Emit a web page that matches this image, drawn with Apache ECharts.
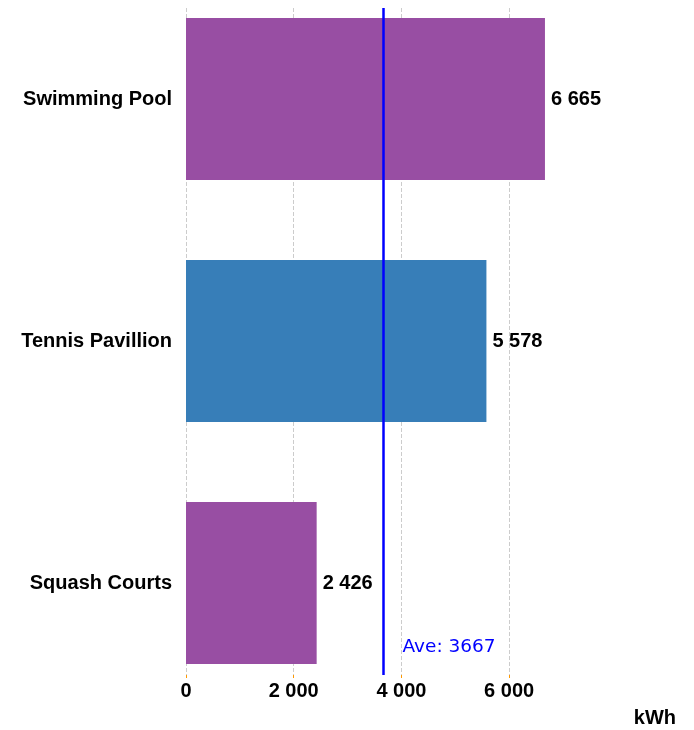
<!DOCTYPE html>
<html>
<head>
<meta charset="utf-8">
<script src="https://cdn.jsdelivr.net/npm/echarts@6/dist/echarts.min.js"></script>
<style>
  html, body { margin: 0; padding: 0; background: #fff; }
  #chart { width: 694px; height: 730px; }
</style>
</head>
<body>
<div id="chart"></div>
<script>
  // data
  var categories = ['Swimming Pool', 'Tennis Pavillion', 'Squash Courts'];
  var values = [6665, 5578, 2426];
  var barColors = ['#984ea3', '#377eb8', '#984ea3'];
  var avgValue = 3667;
  var xMax = 7000;

  function fmt(v) {
    return String(v).replace(/\B(?=(\d{3})+(?!\d))/g, ' ');
  }

  var boldText = { fontFamily: 'Liberation Sans', fontWeight: 'bold', fontSize: 20, color: '#000' };

  var chart = echarts.init(document.getElementById('chart'));
  chart.setOption({
    animation: false,
    title: {
      text: 'kWh',
      right: 18,
      bottom: 2,
      padding: 0,
      textStyle: boldText
    },
    // grid 0: value axis, gridlines, average line
    // grid 1: the bars, category centres sit on the grid edges
    grid: [
      { left: 186, right: 131, top: 8, bottom: 55 },
      { left: 186, right: 131, top: 99, bottom: 147 }
    ],
    xAxis: [{
      gridIndex: 0,
      type: 'value',
      min: 0,
      max: xMax,
      interval: 2000,
      axisLine: { show: false },
      axisTick: { show: true, length: 3, lineStyle: { color: '#ff9900' } },
      axisLabel: Object.assign({ margin: 6, showMaxLabel: false, formatter: function (v) { return fmt(v); } }, boldText),
      splitLine: { show: true, showMaxLine: false, lineStyle: { color: '#cccccc', type: 'dashed' } }
    }, {
      gridIndex: 1,
      type: 'value',
      min: 0,
      max: xMax,
      show: false
    }],
    yAxis: [{
      gridIndex: 0,
      type: 'value',
      min: 0,
      max: 1,
      show: false
    }, {
      gridIndex: 1,
      type: 'category',
      inverse: true,
      boundaryGap: false,
      data: categories,
      axisLine: { show: false },
      axisTick: { show: false },
      splitLine: { show: false },
      axisLabel: Object.assign({ margin: 14 }, boldText)
    }],
    series: [{
      type: 'bar',
      xAxisIndex: 1,
      yAxisIndex: 1,
      barWidth: 162,
      clip: false,
      data: values.map(function (v, i) {
        return { value: v, itemStyle: { color: barColors[i] } };
      }),
      label: Object.assign({
        show: true,
        position: 'right',
        distance: 6,
        formatter: function (p) { return fmt(p.value); }
      }, boldText)
    }, {
      type: 'line',
      xAxisIndex: 0,
      yAxisIndex: 0,
      data: [],
      markLine: {
        symbol: 'none',
        silent: true,
        lineStyle: { color: '#0000ff', width: 2.5, type: 'solid' },
        label: { show: false },
        data: [{ xAxis: avgValue }]
      },
      markPoint: {
        symbol: 'circle',
        symbolSize: 0,
        silent: true,
        label: {
          show: true,
          position: 'right',
          distance: 19,
          formatter: 'Ave: ' + avgValue,
          color: '#0000ff',
          fontFamily: 'DejaVu Sans',
          fontSize: 18.5
        },
        data: [{ coord: [avgValue, 0.042] }]
      }
    }]
  });
</script>
</body>
</html>
